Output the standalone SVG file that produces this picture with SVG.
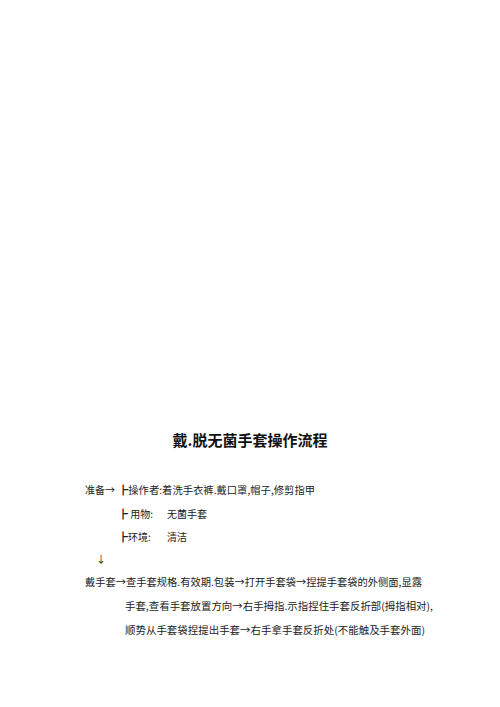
<svg xmlns="http://www.w3.org/2000/svg" width="500" height="707" viewBox="0 0 500 707">
<style>
.t{font-family:"Noto Sans CJK SC","Liberation Serif",serif;font-size:10px;fill:#222}
.h{font-family:"Noto Sans CJK SC","Liberation Sans",sans-serif;font-size:15px;font-weight:bold;fill:#111}
</style>
<rect width="500" height="707" fill="#fff"/>
<g id="title"><text class="h" x="250" y="446" text-anchor="middle">戴.脱无菌手套操作流程</text></g>
<g id="prep">
<text class="t" x="85" y="494">准备→</text>
<text class="t" x="118" y="494" textLength="197" lengthAdjust="spacingAndGlyphs">┣操作者:着洗手衣裤.戴口罩,帽子,修剪指甲</text>
<text class="t" x="118" y="518">┣ 用物:</text>
<text class="t" x="167" y="518">无菌手套</text>
<text class="t" x="118" y="541">┣环境:</text>
<text class="t" x="167" y="541">清洁</text>
<text class="t" x="96" y="563">↓</text>
</g>
<g id="wear">
<text class="t" x="85" y="586" textLength="337" lengthAdjust="spacingAndGlyphs">戴手套→查手套规格.有效期.包装→打开手套袋→捏提手套袋的外侧面,显露</text>
<text class="t" x="125" y="610" textLength="308" lengthAdjust="spacingAndGlyphs">手套,查看手套放置方向→右手拇指.示指捏住手套反折部(拇指相对),</text>
<text class="t" x="125" y="634" textLength="300" lengthAdjust="spacingAndGlyphs">顺势从手套袋捏提出手套→右手拿手套反折处(不能触及手套外面)</text>
</g>
</svg>
